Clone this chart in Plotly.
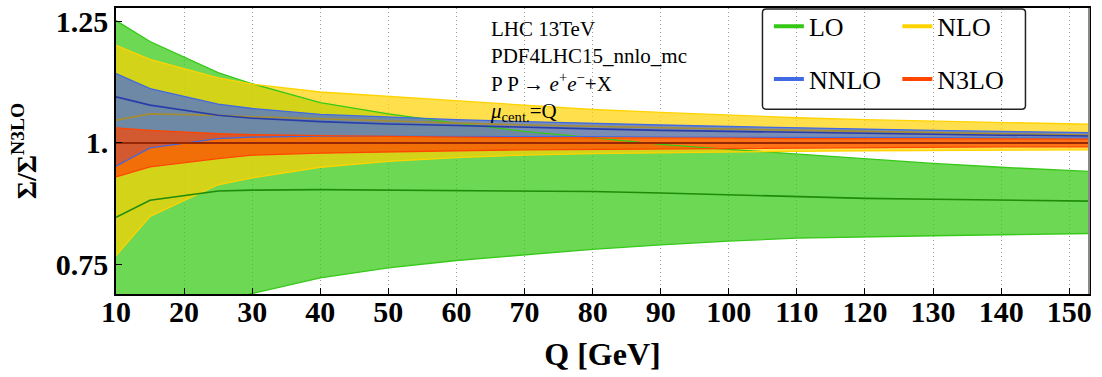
import plotly.graph_objects as go

# ---------------- data ----------------
Q = [10, 15, 25, 30, 40, 50, 60, 70, 80, 90, 100, 110, 120, 130, 140, 150, 155]

lo_up  = [1.252, 1.209, 1.145, 1.122, 1.083, 1.060, 1.041, 1.024, 1.011, 0.997, 0.987, 0.977, 0.967, 0.958, 0.950, 0.943, 0.940]
lo_cen = [0.847, 0.882, 0.901, 0.903, 0.904, 0.903, 0.902, 0.901, 0.900, 0.897, 0.893, 0.889, 0.886, 0.884, 0.882, 0.881, 0.880]
lo_low = [0.600, 0.630, 0.675, 0.690, 0.722, 0.743, 0.758, 0.770, 0.781, 0.790, 0.798, 0.804, 0.807, 0.809, 0.811, 0.813, 0.814]

nlo_up  = [1.201, 1.172, 1.134, 1.121, 1.105, 1.096, 1.087, 1.078, 1.069, 1.063, 1.057, 1.052, 1.048, 1.045, 1.042, 1.039, 1.038]
nlo_cen = [1.047, 1.060, 1.057, 1.054, 1.050, 1.045, 1.041, 1.037, 1.034, 1.031, 1.028, 1.026, 1.024, 1.021, 1.019, 1.017, 1.016]
nlo_low = [0.768, 0.849, 0.914, 0.928, 0.950, 0.962, 0.970, 0.975, 0.978, 0.980, 0.982, 0.983, 0.984, 0.985, 0.986, 0.986, 0.986]

nnlo_up  = [1.143, 1.112, 1.080, 1.071, 1.059, 1.053, 1.048, 1.044, 1.040, 1.037, 1.034, 1.031, 1.029, 1.026, 1.024, 1.022, 1.021]
nnlo_cen = [1.095, 1.078, 1.057, 1.051, 1.044, 1.039, 1.036, 1.032, 1.029, 1.026, 1.024, 1.021, 1.019, 1.017, 1.016, 1.015, 1.014]
nnlo_low = [0.952, 0.990, 1.009, 1.012, 1.014, 1.014, 1.014, 1.013, 1.013, 1.012, 1.012, 1.011, 1.011, 1.011, 1.010, 1.010, 1.010]

n3lo_up  = [1.031, 1.026, 1.019, 1.017, 1.015, 1.013, 1.012, 1.011, 1.011, 1.010, 1.010, 1.009, 1.009, 1.009, 1.008, 1.008, 1.008]
n3lo_cen = [1.000] * len(Q)
n3lo_low = [0.930, 0.951, 0.968, 0.975, 0.979, 0.982, 0.984, 0.986, 0.987, 0.988, 0.989, 0.990, 0.991, 0.991, 0.992, 0.992, 0.992]

names = ["LO", "NLO", "NNLO", "N3LO"]
x_ticks = [10, 20, 30, 40, 50, 60, 70, 80, 90, 100, 110, 120, 130, 140, 150]
y_ticks = [0.75, 1.0, 1.25]
y_tick_text = ["0.75", "1.", "1.25"]

# ---------------- styles ----------------
band_fill = ["rgba(45,200,12,0.7)", "rgba(255,211,0,0.7)", "rgba(65,105,225,0.7)", "rgba(255,69,0,0.7)"]
edge_col = ["rgb(55,200,25)", "rgb(255,211,0)", "rgb(65,105,225)", "rgb(255,69,0)"]
cen_col = ["rgb(30,140,10)", "rgb(165,140,50)", "rgb(40,60,170)", "rgb(150,40,5)"]
leg_col = ["rgb(50,200,20)", "rgb(255,211,0)", "rgb(65,105,225)", "rgb(255,69,0)"]

bands = [(lo_up, lo_cen, lo_low), (nlo_up, nlo_cen, nlo_low),
         (nnlo_up, nnlo_cen, nnlo_low), (n3lo_up, n3lo_cen, n3lo_low)]

fig = go.Figure()

# filled bands
for i, (up, cen, low) in enumerate(bands):
    fig.add_trace(go.Scatter(x=Q, y=up, mode="lines", line=dict(width=0),
                             showlegend=False, hoverinfo="skip"))
    fig.add_trace(go.Scatter(x=Q, y=low, mode="lines", line=dict(width=0),
                             fill="tonexty", fillcolor=band_fill[i],
                             showlegend=False, hoverinfo="skip"))

# band edges
for i, (up, cen, low) in enumerate(bands):
    for arr in (up, low):
        fig.add_trace(go.Scatter(x=Q, y=arr, mode="lines",
                                 line=dict(color=edge_col[i], width=1.3),
                                 showlegend=False, hoverinfo="skip"))

# central lines
for i, (up, cen, low) in enumerate(bands):
    fig.add_trace(go.Scatter(x=Q, y=cen, mode="lines",
                             line=dict(color=cen_col[i], width=1.6 if i < 3 else 2.2),
                             showlegend=False, hoverinfo="skip"))

# legend entries (two columns as two legends)
leg_font = dict(family="Liberation Serif", size=26, color="black")
for i, nm in enumerate(names):
    fig.add_trace(go.Scatter(x=[None], y=[None], mode="lines", name=nm,
                             line=dict(color=leg_col[i], width=4),
                             legend="legend" if i in (0, 2) else "legend2",
                             legendgroup=nm))

fig.update_layout(
    width=1102, height=377,
    margin=dict(l=116, r=13, t=3, b=83),
    paper_bgcolor="white", plot_bgcolor="white",
    legend=dict(x=0.671, y=1.018, xanchor="left", yanchor="top",
                bgcolor="rgba(0,0,0,0)", font=leg_font, tracegroupgap=16,
                itemwidth=30),
    legend2=dict(x=0.803, y=1.018, xanchor="left", yanchor="top",
                 bgcolor="rgba(0,0,0,0)", font=leg_font, tracegroupgap=16,
                 itemwidth=30),
    xaxis=dict(range=[10, 152.9], tickvals=x_ticks, ticks="inside", ticklen=6,
               tickcolor="black", showline=True, linecolor="black", linewidth=1.5,
               mirror=True, showgrid=True, gridcolor="#9a9a9a", griddash="1px,3px",
               gridwidth=1, zeroline=False, ticklabelstandoff=-10,
               tickfont=dict(family="Liberation Serif", size=30, color="black", weight="bold"),
               title=dict(text="<b>Q [GeV]</b>", standoff=16,
                          font=dict(family="Liberation Serif", size=32, color="black"))),
    yaxis=dict(range=[0.689, 1.278], tickvals=y_ticks, ticktext=y_tick_text,
               ticks="inside", ticklen=6, tickcolor="black", showline=True,
               linecolor="black", linewidth=1.5, mirror=True, showgrid=False,
               zeroline=False,
               tickfont=dict(family="Liberation Serif", size=30, color="black", weight="bold"),
               title=dict(text="<b>Σ/Σ<sup>N3LO</sup></b>", standoff=11,
                          font=dict(family="Liberation Serif", size=28, color="black"))),
)

# annotation text block
fig.add_annotation(
    xref="paper", yref="paper", x=0.382, y=0.976, xanchor="left", yanchor="top",
    align="left", showarrow=False,
    text=("LHC 13TeV<br>PDF4LHC15_nnlo_mc<br>P P → <i>e</i><sup>+</sup><i>e</i><sup>−</sup>+X"
          "<br><i>μ</i><sub>cent.</sub>=Q"),
    font=dict(family="Liberation Serif", size=21, color="black"),
)

# legend frame (rounded rectangle)
x0, x1, y0, y1 = 0.6644, 0.9347, 0.6464, 0.9966
rx, ry = 0.004, 0.012
path = (f"M{x0+rx},{y0} L{x1-rx},{y0} Q{x1},{y0} {x1},{y0+ry} L{x1},{y1-ry} "
        f"Q{x1},{y1} {x1-rx},{y1} L{x0+rx},{y1} Q{x0},{y1} {x0},{y1-ry} "
        f"L{x0},{y0+ry} Q{x0},{y0} {x0+rx},{y0} Z")
fig.add_shape(type="path", xref="paper", yref="paper", path=path,
              line=dict(color="#222222", width=1.5), fillcolor="rgba(0,0,0,0)")

# grey right frame
fig.add_shape(type="line", xref="paper", yref="paper", x0=1, x1=1, y0=0, y1=1,
              line=dict(color="#8a8a8a", width=2))

fig.write_html("out.html")
